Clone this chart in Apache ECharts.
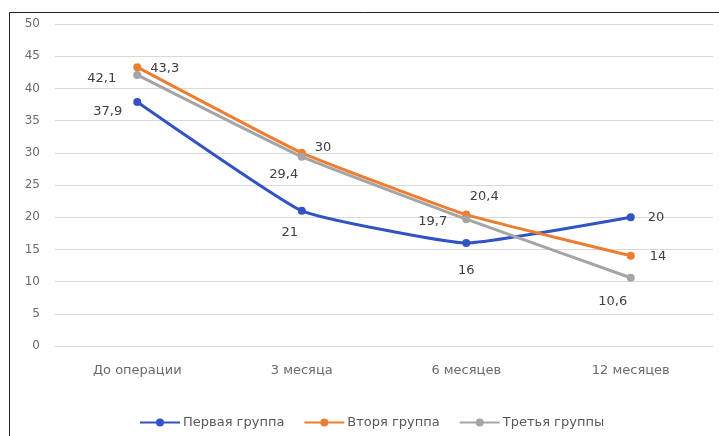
<!DOCTYPE html>
<html>
<head>
<meta charset="utf-8">
<script src="https://cdn.jsdelivr.net/npm/echarts@6/dist/echarts.min.js"></script>
<style>
  html, body { margin: 0; padding: 0; background: #fff; }
  #chart { width: 719px; height: 436px; }
</style>
</head>
<body>
<div id="chart"></div>
<script>
// Периоды наблюдения
const categories = ['До операции', '3 месяца', '6 месяцев', '12 месяцев'];
// Значения по группам
const group1 = [37.9, 21, 16, 20];
const group2 = [43.3, 30, 20.4, 14];
const group3 = [42.1, 29.4, 19.7, 10.6];
const seriesNames = ['Первая группа', 'Вторя группа', 'Третья группы'];
const yTicks = { min: 0, max: 50, interval: 5 };

const fmt = p => String(p.value).replace('.', ',');
const FONT = '"DejaVu Sans", "Open Sans", sans-serif';

// Label placement for each point of each series
const pos1 = [['left', [-6, 10]], ['bottom', [-12, 6]], ['bottom', [0, 12]], ['right', [8, 0]]];
const pos2 = [['right', [4, 1]], ['right', [4, -5]], ['top', [18, -2]], ['right', [10, 1]]];
const pos3 = [['left', [-12, 4]], ['bottom', [-18, 2]], ['left', [-10, 2]], ['bottom', [-18, 8]]];

function mkData(vals, pos) {
  return vals.map((v, i) => ({
    value: v,
    label: { position: pos[i][0], offset: pos[i][1] }
  }));
}

function mkSeries(name, vals, pos, color, z) {
  return {
    name: name,
    type: 'line',
    data: mkData(vals, pos),
    smooth: 0.12,
    symbol: 'circle',
    symbolSize: 8,
    z: z,
    lineStyle: { width: 3, color: color },
    itemStyle: { color: color },
    label: {
      show: true,
      formatter: fmt,
      color: '#404040',
      fontSize: 13,
      fontFamily: FONT
    }
  };
}

// Legend glyph: thick line with a dot in the middle
const legendIcon = 'path://M0,3 H40 V5 H0 Z M20,0 A4,4 0 1 1 20,8 A4,4 0 1 1 20,0 Z';

const chart = echarts.init(document.getElementById('chart'));
chart.setOption({
  animation: false,
  backgroundColor: '#fff',
  graphic: [{
    type: 'rect',
    shape: { x: 9.5, y: 12.5, width: 720, height: 440 },
    style: { fill: 'none', stroke: '#222', lineWidth: 1 },
    silent: true
  }],
  grid: { left: 55, right: 6, top: 24, bottom: 90, containLabel: false },
  legend: {
    top: 411,
    left: 135,
    itemWidth: 40,
    itemHeight: 8,
    itemGap: 20,
    textStyle: { color: '#595959', fontSize: 13, fontFamily: FONT, padding: [0, 0, 0, -2] },
    data: seriesNames.map(n => ({ name: n, icon: legendIcon }))
  },
  xAxis: {
    type: 'category',
    data: categories,
    boundaryGap: true,
    axisLine: { show: false },
    axisTick: { show: false },
    axisLabel: { color: '#6b6b6b', fontSize: 13, fontFamily: FONT, margin: 18 }
  },
  yAxis: {
    type: 'value',
    min: yTicks.min,
    max: yTicks.max,
    interval: yTicks.interval,
    axisLine: { show: false },
    axisTick: { show: false },
    axisLabel: { color: '#6b6b6b', fontSize: 12, fontFamily: FONT, margin: 15 },
    splitLine: { lineStyle: { color: '#d9d9d9', width: 1 } }
  },
  series: [
    mkSeries(seriesNames[0], group1, pos1, '#3253c4', 3),
    mkSeries(seriesNames[1], group2, pos2, '#ed7d31', 4),
    mkSeries(seriesNames[2], group3, pos3, '#a5a5a5', 5)
  ]
});
</script>
</body>
</html>
